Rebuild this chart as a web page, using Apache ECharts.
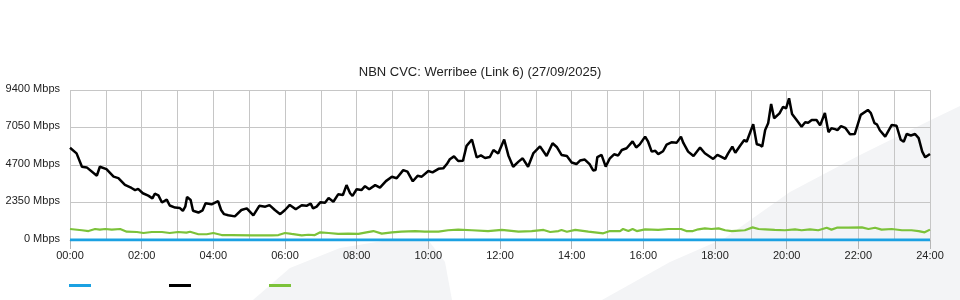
<!DOCTYPE html>
<html>
<head>
<meta charset="utf-8">
<script src="https://cdn.jsdelivr.net/npm/echarts@6/dist/echarts.min.js"></script>
<style>
html,body{margin:0;padding:0;background:#fff;}
#chart{width:960px;height:300px;}
</style>
</head>
<body>
<div id="chart"></div>
<script>
// ---- Data (minutes since midnight, Mbps) ----
const titleText = 'NBN CVC: Werribee (Link 6) (27/09/2025)';
const yTicks = [0, 2350, 4700, 7050, 9400];
const xTickLabels = ['00:00','02:00','04:00','06:00','08:00','10:00','12:00','14:00','16:00','18:00','20:00','22:00','24:00'];
const seriesNames = ['Limit', 'Download', 'Upload'];

const blueTimes = [0, 1440];
const blueValues = [0, 0];

const blackTimes = [0,11,20,28,45,50,61,73,81,92,103,109,114,122,131,138,142,148,154,162,167,176,184,189,193,196,202,206,215,222,227,237,248,253,258,265,276,287,296,307,317,327,334,343,352,360,368,378,388,396,403,407,413,419,
427,433,441,449,457,463,469,473,480,488,494,501,511,519,529,539,547,558,565,574,582,589,600,607,617,625,631,636,643,650,658,664,673,681,688,695,703,709,717,720,727,734,742,751,758,767,776,787,798,808,815,823,832,840,848,854,862,870,876,880,883,890,897,904,911,918,924,932,942,948,954,
963,968,974,980,985,993,999,1007,1016,1023,1027,1035,1044,1055,1063,1077,1084,1090,1097,1102,1109,1114,1122,1129,1133,1144,1150,1155,1159,1164,1169,1174,1179,1188,1194,1199,1204,1209,1216,1225,1231,1236,1242,1250,1256,1264,1270,1275,1281,1285,1291,1298,1306,1314,1324,1336,1341,1347,1351,1356,1365,1376,1384,1391,1396,1401,1408,1415,1421,1427,1432,1440];
const blackValues = [5780,5430,4590,4550,4030,4590,4440,3970,3880,3450,3260,3130,3200,2930,2780,2610,2900,2800,2350,2530,2160,2030,2000,1830,2090,2700,2510,1830,1720,1860,2300,2240,2440,1880,1620,1550,1480,1880,1980,1540,2140,2090,2190,1880,1620,1880,2200,1930,2180,2140,2280,1980,2090,2360,
2340,2630,2400,2860,2820,3440,2930,2760,3180,3130,3370,3180,3440,3280,3690,3960,3870,4380,4280,3680,4020,3970,4320,4240,4460,4490,4760,5060,5240,4950,4970,5900,6300,5170,5300,5140,5200,5640,5420,5380,6300,5300,4590,4910,5120,4590,5450,5870,5260,6060,5830,5330,5260,4860,4760,4980,5040,4750,4360,4380,5200,5330,4600,5120,5370,5300,5640,5750,6180,5800,5990,
6480,6160,5540,5590,5380,5560,5980,6120,6100,6480,6080,5540,5260,5790,5440,5080,5330,5220,5080,5430,5850,5470,5910,6270,6160,7250,6000,5950,5850,6890,7310,8530,7630,7940,8350,8250,8880,7900,7550,7100,7380,7350,7520,7520,7180,7960,6760,7000,6950,6890,7140,7030,6630,6640,7840,8150,7950,7320,7250,6880,6480,7210,7160,6280,6160,6640,6550,6640,6380,5540,5180,5390];

const greenTimes = [0,20,31,42,50,59,70,84,95,112,123,137,154,167,181,195,201,215,229,240,254,271,304,338,349,360,371,388,399,410,419,433,449,466,483,494,508,522,539,555,578,594,617,633,650,673,700,723,751,773,793,804,818,823,832,846,868,893,904,921,926,935,942,949,963,985,1002,1023,1032,1043,1052,1063,1074,1086,1097,1108,1130,1143,1153,1164,1180,1197,1214,1225,1239,1253,1267,1275,1284,1303,1326,1337,1348,1359,1376,1393,1409,1421,1431,1440];
const greenValues = [690,610,560,690,650,690,650,690,520,500,440,500,500,440,500,460,520,360,360,440,310,310,290,290,310,440,380,290,330,310,480,440,380,400,380,460,560,400,480,520,560,520,520,610,650,610,560,630,520,560,630,500,560,630,520,630,520,420,560,560,690,560,690,560,670,630,690,690,560,560,670,730,690,730,610,560,610,790,690,670,630,610,670,610,670,610,770,650,770,770,790,690,770,650,690,610,610,560,480,650];

function pairs(t, v) { return t.map((x, i) => [x, v[i]]); }
function hhmm(m) { const h = Math.round(m / 60); return (h < 10 ? '0' : '') + h + ':00'; }

const FONT = 'Liberation Sans, Arial, sans-serif';
const GRID = '#c6c6c6';
const chart = echarts.init(document.getElementById('chart'), null, {renderer: 'canvas'});

chart.setOption({
  animation: false,
  backgroundColor: '#ffffff',
  textStyle: {fontFamily: FONT},
  title: {
    text: titleText, left: 'center', top: 61,
    textStyle: {fontFamily: FONT, fontSize: 13, fontWeight: 'normal', color: '#222'}
  },
  graphic: [
    {type: 'polygon', z: -10, silent: true,
     shape: {points: [[253,300],[290,268],[340,248],[395,239],[428,240],[445,262],[452,300]]},
     style: {fill: '#f3f4f6'}},
    {type: 'polygon', z: -10, silent: true,
     shape: {points: [[602,300],[670,262],[725,238],[790,192],[860,155],[935,118],[960,106],[960,300]]},
     style: {fill: '#f3f4f6'}}
  ],
  grid: {left: 70, right: 30, top: 90, bottom: 60, containLabel: false},
  legend: [0,1,2].map(i => ({
    data: [seriesNames[i]], left: 69 + i * 100, top: 284, padding: 0,
    icon: 'rect', itemWidth: 22, itemHeight: 3, itemGap: 0,
    formatter: () => '', textStyle: {fontSize: 12},
    selectedMode: false
  })),
  xAxis: {
    type: 'value', min: 0, max: 1440, interval: 120,
    axisLine: {show: true, lineStyle: {color: GRID}},
    axisTick: {show: true, length: 9, lineStyle: {color: '#b5b5b5'}},
    minorTick: {show: false, splitNumber: 2},
    splitLine: {show: true, lineStyle: {color: GRID, width: 1}},
    minorSplitLine: {show: true, lineStyle: {color: GRID, width: 1}},
    axisLabel: {
      margin: 10, fontSize: 11, color: '#222', fontFamily: FONT,
      formatter: v => xTickLabels[Math.round(v / 120)] || hhmm(v)
    }
  },
  yAxis: {
    type: 'value', min: yTicks[0], max: yTicks[yTicks.length - 1], interval: yTicks[1] - yTicks[0],
    axisLine: {show: false}, axisTick: {show: false},
    splitLine: {show: true, lineStyle: {color: GRID, width: 1}},
    axisLabel: {margin: 10, fontSize: 11, color: '#222', fontFamily: FONT,
      formatter: v => v + ' Mbps', verticalAlign: 'bottom', padding: [0,0,-4,0]}
  },
  series: [
    {name: seriesNames[0], type: 'line', data: pairs(blueTimes, blueValues),
     showSymbol: false, z: 3, color: '#1ba1e2', lineStyle: {width: 3, color: '#1ba1e2'}},
    {name: seriesNames[1], type: 'line', data: pairs(blackTimes, blackValues),
     showSymbol: false, z: 4, color: '#000', lineStyle: {width: 2.5, color: '#000'}},
    {name: seriesNames[2], type: 'line', data: pairs(greenTimes, greenValues),
     showSymbol: false, z: 4, color: '#7cc23a', lineStyle: {width: 2.2, color: '#7cc23a'}}
  ]
});
</script>
</body>
</html>
